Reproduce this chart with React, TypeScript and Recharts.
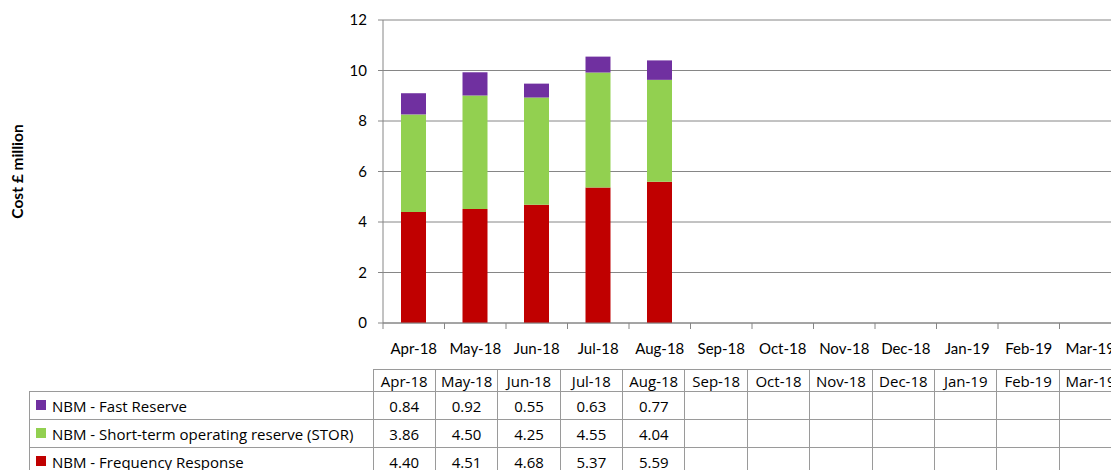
import { BarChart, Bar, XAxis, YAxis, CartesianGrid } from 'recharts';

const months = ['Apr-18', 'May-18', 'Jun-18', 'Jul-18', 'Aug-18', 'Sep-18', 'Oct-18', 'Nov-18', 'Dec-18', 'Jan-19', 'Feb-19', 'Mar-19'];
const fastReserve = [0.84, 0.92, 0.55, 0.63, 0.77];
const stor = [3.86, 4.5, 4.25, 4.55, 4.04];
const freqResponse = [4.4, 4.51, 4.68, 5.37, 5.59];
const yTicks = [0, 2, 4, 6, 8, 10, 12];

const series = [
  { key: 'fast', name: 'NBM - Fast Reserve', color: '#7030A0', values: fastReserve },
  { key: 'stor', name: 'NBM - Short-term operating reserve (STOR)', color: '#92D050', values: stor },
  { key: 'freq', name: 'NBM - Frequency Response', color: '#C00000', values: freqResponse },
];

const data = months.map((m, i) => ({
  month: m,
  freq: freqResponse[i] ?? null,
  stor: stor[i] ?? null,
  fast: fastReserve[i] ?? null,
}));

const FONT = 'Lato, "Open Sans", sans-serif';
const TABLE_FONT = '"Open Sans", Lato, sans-serif';
const GRID = '#868686';
const TICK_SIZE = 6;
const TICK_MARGIN = 14;
const LABEL_COL = 343.5;
const MONTH_COL = 62.4;

// month label at the band centre, tick mark at the band's left edge
const MonthTick = (props: any) => {
  const { x, y, payload } = props;
  const axisY = y - TICK_SIZE - TICK_MARGIN;
  const edge = x - payload.offset;
  return (
    <g>
      <line x1={edge} y1={axisY} x2={edge} y2={axisY + TICK_SIZE} stroke={GRID} />
      <text x={x} y={y} dy="0.71em" textAnchor="middle" fill="#000" fontSize={15} fontFamily={FONT}>
        {payload.value}
      </text>
    </g>
  );
};

const cell: React.CSSProperties = {
  border: '1px solid #9a9a9a',
  padding: 0,
  textAlign: 'center',
  fontFamily: TABLE_FONT,
  fontSize: 15,
  color: '#000',
  overflow: 'hidden',
  whiteSpace: 'nowrap',
};

export default function App() {
  return (
    <div style={{ position: 'absolute', left: 0, top: 0, width: 1111, height: 470, overflow: 'hidden', background: '#fff' }}>
      <BarChart width={1121} height={370} data={data} margin={{ top: 20, right: 0, bottom: 0, left: 0 }} barSize={25}>
        <CartesianGrid vertical={false} stroke={GRID} />
        <XAxis
          dataKey="month"
          height={47}
          axisLine={{ stroke: GRID }}
          tickLine={false}
          tickSize={TICK_SIZE}
          tickMargin={TICK_MARGIN}
          interval={0}
          tick={<MonthTick />}
        />
        <YAxis
          width={383}
          domain={[0, 12]}
          ticks={yTicks}
          interval={0}
          axisLine={{ stroke: GRID }}
          tickLine={{ stroke: GRID }}
          tickSize={5}
          tickMargin={11}
          tick={{ fill: '#000', fontSize: 15, fontFamily: FONT }}
          label={{
            content: (p: any) => {
              const vb = p.viewBox;
              const cx = 17;
              const cy = vb.y + vb.height / 2;
              return (
                <text x={cx} y={cy} transform={`rotate(-90 ${cx} ${cy})`} textAnchor="middle" dominantBaseline="central"
                  fontSize={15.5} fontWeight="bold" fontFamily={FONT} fill="#000">
                  Cost £ million
                </text>
              );
            },
          }}
        />
        {[...series].reverse().map((s) => (
          <Bar key={s.key} dataKey={s.key} stackId="a" fill={s.color} isAnimationActive={false} />
        ))}
      </BarChart>
      <table style={{ position: 'absolute', left: 29, top: 369, width: LABEL_COL + MONTH_COL * 12, borderCollapse: 'collapse', tableLayout: 'fixed' }}>
        <colgroup>
          <col style={{ width: LABEL_COL }} />
          {months.map((m) => (
            <col key={m} style={{ width: MONTH_COL }} />
          ))}
        </colgroup>
        <tbody>
          <tr style={{ height: 22 }}>
            <td style={{ ...cell, border: 'none' }} />
            {months.map((m) => (
              <td key={m} style={cell}>{m}</td>
            ))}
          </tr>
          {series.map((s) => (
            <tr key={s.key} style={{ height: 28 }}>
              <td style={{ ...cell, textAlign: 'left', paddingLeft: 6 }}>
                <span style={{ display: 'inline-block', width: 10, height: 10, background: s.color, marginRight: 6, verticalAlign: 'middle', position: 'relative', top: -2 }} />
                {s.name}
              </td>
              {months.map((m, i) => (
                <td key={m} style={cell}>{s.values[i] !== undefined ? s.values[i].toFixed(2) : ''}</td>
              ))}
            </tr>
          ))}
        </tbody>
      </table>
    </div>
  );
}
